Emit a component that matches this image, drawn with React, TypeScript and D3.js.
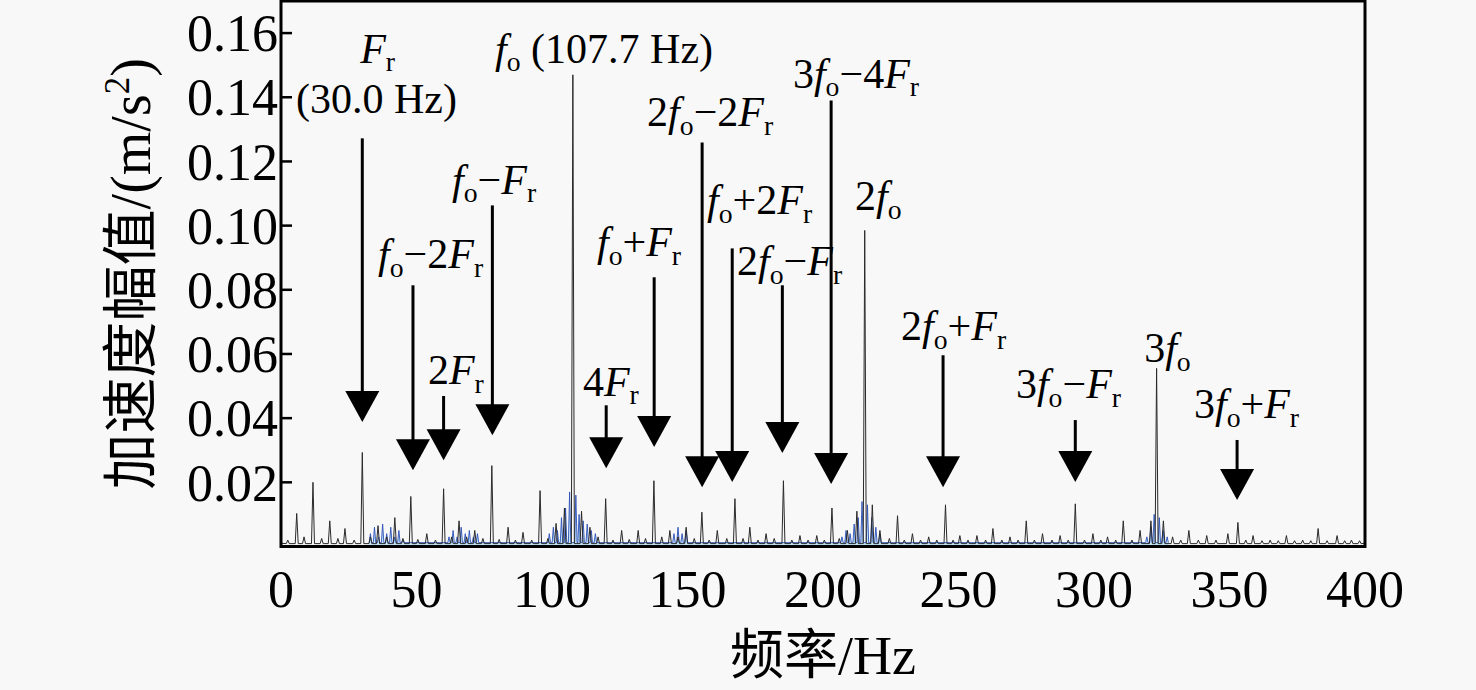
import React from "react";
import * as d3 from "d3";

// ---------- data ----------
const xTicks = [0, 50, 100, 150, 200, 250, 300, 350, 400];
const yTicks = [0.02, 0.04, 0.06, 0.08, 0.1, 0.12, 0.14, 0.16];
const yTickLabels = ["0.02", "0.04", "0.06", "0.08", "0.10", "0.12", "0.14", "0.16"];

// main (black) spectrum peaks: frequency (Hz), amplitude (m/s^2)
const peakFreqs = [
  2.5, 5.8, 8.5, 11.8, 15, 18, 21, 23.6, 27, 30.0, 33, 35.8, 39, 42, 45, 47.9, 50.5, 53.8, 57, 60.0, 63, 65.7, 68.5,
  71.5, 74.5, 77.8, 80.5, 83.8, 86.5, 89.3, 92.5, 95.6, 98.5, 101.5, 104.6, 107.7, 110.9, 114, 117, 119.8,
  122.5, 125.7, 128.5, 131.8, 134.5, 137.6, 140.5, 143.5, 146.5, 149.5, 152.5, 155.3, 158, 161, 164.5,
  167.5, 170.5, 173, 176, 179, 182, 185.4, 188.5, 191.5, 194.5, 197.7, 200.5, 203.3, 206, 209, 212.5,
  215.4, 218.2, 221, 224.5, 227.5, 230, 233, 236, 239, 242, 245.2, 248, 250.5, 253.5, 256.8, 260, 262.7, 266,
  269, 272, 275, 278, 281, 284.5, 287.5, 290.5, 293.1, 296.5, 299.6, 302.5, 305, 308, 310.8, 314, 317, 321,
  323.1, 325.6, 329, 332, 335, 338.5, 341.6, 345, 349.4, 353.1, 356, 358.7, 362, 365, 368, 371, 374, 377,
  380, 382.7, 386, 389.7, 392.5, 395, 398,
];
const peakAmps = [
  0.002, 0.0103, 0.003, 0.02, 0.0025, 0.008, 0.0025, 0.0056, 0.002, 0.0293, 0.003, 0.0065, 0.003, 0.009, 0.0025, 0.0156, 0.0022, 0.004, 0.002, 0.018, 0.003, 0.008, 0.003,
  0.005, 0.0025, 0.0252, 0.0022, 0.006, 0.002, 0.0044, 0.002, 0.0174, 0.0025, 0.0072, 0.012, 0.147, 0.011, 0.006, 0.003, 0.0149,
  0.002, 0.005, 0.0022, 0.005, 0.0025, 0.0205, 0.003, 0.005, 0.003, 0.006, 0.0025, 0.0107, 0.002, 0.005, 0.0025,
  0.0149, 0.0025, 0.006, 0.002, 0.004, 0.0025, 0.0205, 0.002, 0.0034, 0.002, 0.0034, 0.002, 0.012, 0.0025, 0.005, 0.011,
  0.0985, 0.013, 0.005, 0.0025, 0.0096, 0.002, 0.004, 0.002, 0.003, 0.002, 0.013, 0.002, 0.0034, 0.002, 0.0034, 0.002, 0.0056, 0.002,
  0.003, 0.002, 0.008, 0.002, 0.004, 0.002, 0.0034, 0.002, 0.0133, 0.002, 0.004, 0.002, 0.003, 0.002, 0.008, 0.002, 0.005, 0.008,
  0.0555, 0.008, 0.003, 0.002, 0.005, 0.002, 0.0034, 0.002, 0.004, 0.0075, 0.002, 0.0034, 0.0018, 0.002, 0.0018, 0.0034, 0.0018, 0.002,
  0.0018, 0.0056, 0.0018, 0.0034, 0.0018, 0.002, 0.0018,
];

// blue noise bands
const blueFreqs = [
  33, 34.5, 36, 37.5, 39, 40.5, 42, 43.5, 45,
  62, 63.5, 65, 66.5, 68, 69.5, 71, 72.5,
  99, 100.5, 102, 103.5, 105, 106.5, 108.8, 110, 111.5, 113, 114.5, 116,
  145, 146.5, 148, 149.5,
  207, 208.5, 210, 211.5, 213, 214.4, 216.4, 218, 219.5, 221,
  319.5, 321, 322.2, 324.1, 325.5, 327,
];
const blueAmps = [
  0.004, 0.006, 0.003, 0.007, 0.004, 0.006, 0.003, 0.005, 0.002,
  0.003, 0.005, 0.003, 0.006, 0.004, 0.005, 0.003, 0.004,
  0.004, 0.006, 0.005, 0.009, 0.012, 0.017, 0.016, 0.01, 0.008, 0.007, 0.005, 0.004,
  0.004, 0.006, 0.004, 0.005,
  0.003, 0.005, 0.004, 0.007, 0.009, 0.014, 0.013, 0.009, 0.006, 0.004,
  0.003, 0.006, 0.01, 0.009, 0.005, 0.003,
];

// annotations
const annLabels = [
  "F_r", "(30.0 Hz)", "f_o−2F_r", "2F_r", "f_o−F_r", "f_o (107.7 Hz)", "4F_r", "f_o+F_r", "2f_o−2F_r",
  "f_o+2F_r", "2f_o−F_r", "3f_o−4F_r", "2f_o", "2f_o+F_r", "3f_o−F_r", "3f_o", "3f_o+F_r",
];
const annTextHz = [29.2, 5.5, 35.8, 54.2, 63.1, 79.0, 111.4, 116.6, 135.1, 157.2, 168.3, 188.9, 211.8, 228.8, 271.2, 318.5, 336.9];
const annTextVal = [0.1508, 0.135, 0.0867, 0.0506, 0.11, 0.1508, 0.047, 0.0905, 0.1309, 0.1035, 0.0845, 0.143, 0.1048, 0.0643, 0.0462, 0.0574, 0.04];

// arrows: frequency, top of shaft, tip (values)
const arrowHz = [30.0, 48.7, 60.0, 78.0, 120.0, 137.7, 155.4, 166.5, 185.0, 203.0, 244.3, 293.1, 352.8];
const arrowTop = [0.1272, 0.0814, 0.0469, 0.1063, 0.044, 0.0839, 0.1259, 0.0929, 0.0814, 0.139, 0.0596, 0.0394, 0.0332];
const arrowTip = [0.0388, 0.0238, 0.0269, 0.0347, 0.0244, 0.031, 0.0185, 0.0201, 0.0291, 0.0195, 0.0185, 0.0201, 0.0145];

// ---------- layout ----------
const W = 1476;
const H = 690;
const M = { left: 281, right: 111, top: 1, bottom: 143.5 };
const SERIF = "'Liberation Serif', 'Times New Roman', serif";
const CJK = "'Noto Sans CJK SC', sans-serif";

const x = d3.scaleLinear().domain([0, 400]).range([M.left, W - M.right]);
const y = d3.scaleLinear().domain([0, 0.17]).range([H - M.bottom, M.top]);

function spikes(freqs: number[], amps: number[], hw: number, floor: number): [number, number][] {
  const pts: [number, number][] = [];
  freqs.forEach((f, i) => {
    pts.push([f - hw, floor]);
    pts.push([f, amps[i]]);
    pts.push([f + hw, floor]);
  });
  return pts;
}

function Label({ s, px, py, size }: { s: string; px: number; py: number; size: number }) {
  const parts: { t: string; kind: "i" | "n" | "sub" }[] = [];
  for (let i = 0; i < s.length; i++) {
    const c = s[i];
    if (c === "_") {
      parts.push({ t: s[i + 1], kind: "sub" });
      i++;
    } else if ((c === "f" || c === "F") && !s.startsWith("(")) {
      parts.push({ t: c, kind: "i" });
    } else {
      parts.push({ t: c, kind: "n" });
    }
  }
  const shift = size * 0.2;
  let prevSub = false;
  return (
    <text x={px} y={py} fontFamily={SERIF} fontSize={size} fill="#000">
      {parts.map((p, i) => {
        let dy = 0;
        if (p.kind === "sub" && !prevSub) dy = shift;
        if (p.kind !== "sub" && prevSub) dy = -shift;
        prevSub = p.kind === "sub";
        return (
          <tspan
            key={i}
            dy={dy || undefined}
            fontStyle={p.kind === "i" ? "italic" : "normal"}
            fontSize={p.kind === "sub" ? size * 0.66 : size}
          >
            {p.t === " " ? "\u00a0" : p.t}
          </tspan>
        );
      })}
    </text>
  );
}

export default function App() {
  const line = d3
    .line<[number, number]>()
    .x((d) => x(d[0]))
    .y((d) => y(d[1]));
  const area = d3
    .area<[number, number]>()
    .x((d) => x(d[0]))
    .y0(y(0))
    .y1((d) => y(d[1]));

  const blackPts: [number, number][] = [[0, 0.001], ...spikes(peakFreqs, peakAmps, 0.55, 0.0009), [400, 0.001]];
  const bluePts = spikes(blueFreqs, blueAmps, 0.45, 0.0012);

  const x0 = x(0);
  const x1 = x(400);
  const yb = y(0);
  const yt = y(0.17);

  return (
    <svg
      width={W}
      height={H}
      style={{ position: "fixed", left: 0, top: 0, background: "#f8f8f8" }}
    >
      <rect x={0} y={0} width={W} height={H} fill="#f8f8f8" />
      <defs>
        <clipPath id="plot">
          <rect x={x0} y={yt} width={x1 - x0} height={yb - yt} />
        </clipPath>
      </defs>

      {/* spectrum */}
      <g clipPath="url(#plot)">
        <path d={area(bluePts) || ""} fill="#c4e8f8" stroke="none" />
        <path d={line(bluePts) || ""} fill="none" stroke="#2a4fb8" strokeWidth={0.9} />
        <path d={line(blackPts) || ""} fill="none" stroke="#2a2a2a" strokeWidth={1} />
      </g>

      {/* arrows */}
      {arrowHz.map((f, i) => {
        const ax = x(f);
        const tip = y(arrowTip[i]);
        const tw = 17;
        const th = 31;
        return (
          <g key={i}>
            <line x1={ax} x2={ax} y1={y(arrowTop[i])} y2={tip - th + 2} stroke="#000" strokeWidth={3} />
            <path d={`M${ax - tw},${tip - th}L${ax + tw},${tip - th}L${ax},${tip}Z`} fill="#000" />
          </g>
        );
      })}

      {/* annotation labels */}
      {annLabels.map((s, i) => (
        <Label key={i} s={s} px={x(annTextHz[i])} py={y(annTextVal[i])} size={42} />
      ))}

      {/* frame */}
      <rect x={x0} y={yt} width={x1 - x0} height={yb - yt} fill="none" stroke="#000" strokeWidth={3} />

      {/* y ticks */}
      {yTicks.map((v, i) => (
        <g key={i}>
          <line x1={x0} x2={x0 + 11} y1={y(v)} y2={y(v)} stroke="#000" strokeWidth={2.5} />
          <text
            x={x0 - 3}
            y={y(v)}
            dy="0.35em"
            textAnchor="end"
            fontFamily={SERIF}
            fontSize={52}
            fill="#000"
          >
            {yTickLabels[i]}
          </text>
        </g>
      ))}

      {/* x tick labels */}
      {xTicks.map((v) => (
        <text key={v} x={x(v)} y={yb + 60} textAnchor="middle" fontFamily={SERIF} fontSize={52} fill="#000">
          {v}
        </text>
      ))}

      {/* axis titles */}
      <text x={(x0 + x1) / 2} y={674} textAnchor="middle" fontSize={54} fill="#000">
        <tspan fontFamily={CJK}>频率</tspan>
        <tspan fontFamily={SERIF}>/Hz</tspan>
      </text>
      <text
        transform={`translate(150, ${(yb + yt) / 2}) rotate(-90)`}
        textAnchor="middle"
        fontSize={56}
        fill="#000"
      >
        <tspan fontFamily={CJK}>加速度幅值</tspan>
        <tspan fontFamily={SERIF}>/(m/s</tspan>
        <tspan fontFamily={SERIF} fontSize={35} dy={-21}>
          2
        </tspan>
        <tspan fontFamily={SERIF} dy={21}>
          )
        </tspan>
      </text>
    </svg>
  );
}
